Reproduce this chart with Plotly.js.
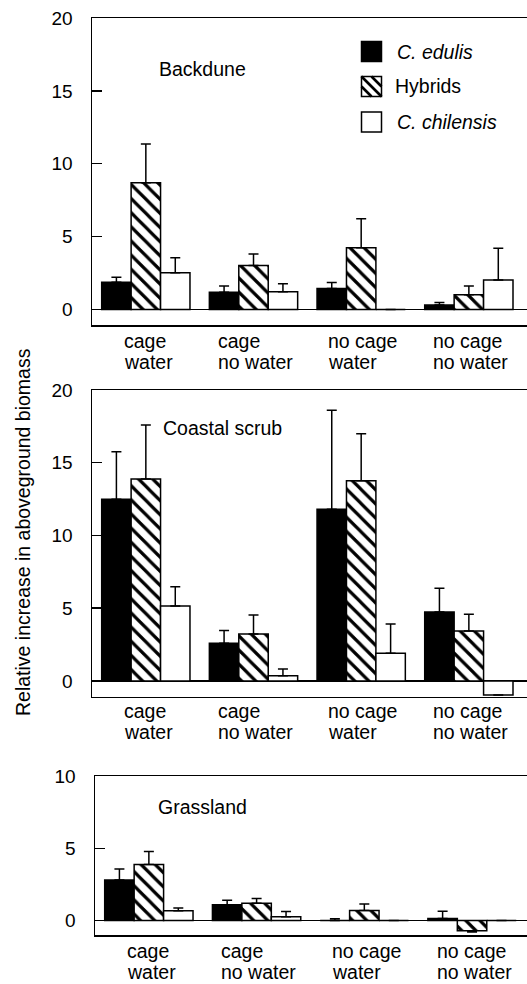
<!DOCTYPE html>
<html>
<head>
<meta charset="utf-8">
<script src="https://cdn.plot.ly/plotly-3.0.1.min.js"></script>
<style>
html,body{margin:0;padding:0;background:#fff;overflow:hidden;}
#chart{width:527px;height:984px;}
</style>
</head>
<body>
<div id="chart"></div>
<script>
// ---------- data ----------
const categoryLines = [["cage", "water"], ["cage", "no water"], ["no cage", "water"], ["no cage", "no water"]];
const categories = categoryLines.map(l => l.join(" "));
const speciesNames = ["C. edulis", "Hybrids", "C. chilensis"];
const panelNames = ["Backdune", "Coastal scrub", "Grassland"];
const yTitle = "Relative increase in aboveground biomass";

// Backdune
const backdune_edulis = [1.87, 1.17, 1.44, 0.30];
const backdune_edulis_se = [0.33, 0.43, 0.41, 0.18];
const backdune_hybrids = [8.69, 3.02, 4.23, 1.00];
const backdune_hybrids_se = [2.66, 0.78, 1.99, 0.60];
const backdune_chilensis = [2.51, 1.21, 0.00, 2.01];
const backdune_chilensis_se = [1.03, 0.55, 0.00, 2.18];

// Coastal scrub
const coastal_edulis = [12.49, 2.59, 11.80, 4.74];
const coastal_edulis_se = [3.27, 0.87, 6.80, 1.63];
const coastal_hybrids = [13.88, 3.23, 13.77, 3.44];
const coastal_hybrids_se = [3.72, 1.31, 3.23, 1.14];
const coastal_chilensis = [5.15, 0.36, 1.90, -0.96];
const coastal_chilensis_se = [1.33, 0.46, 2.02, 0.00];

// Grassland
const grass_edulis = [2.80, 1.10, 0.00, 0.15];
const grass_edulis_se = [0.76, 0.31, 0.12, 0.50];
const grass_hybrids = [3.88, 1.19, 0.69, -0.70];
const grass_hybrids_se = [0.89, 0.34, 0.45, 0.10];
const grass_chilensis = [0.67, 0.27, 0.00, 0.00];
const grass_chilensis_se = [0.20, 0.36, 0.00, 0.00];

const yTicksBig = [0, 5, 10, 15, 20];
const yTicksSmall = [0, 5, 10];

// ---------- styling / layout ----------
const W = 527, H = 984;
const FONT = "Liberation Sans, Arial, Helvetica, sans-serif";
const FS = 19.5;
const px = x => x / W;
const py = y => 1 - y / H;

const panels = [
  {vals: [backdune_edulis, backdune_hybrids, backdune_chilensis],
   se: [backdune_edulis_se, backdune_hybrids_se, backdune_chilensis_se],
   top: 18, bottom: 325, left: 92, xmax: 3.54, yr: [-1.07, 20], ticks: yTicksBig,
   title: [157, 69], lab: [341, 362]},
  {vals: [coastal_edulis, coastal_hybrids, coastal_chilensis],
   se: [coastal_edulis_se, coastal_hybrids_se, coastal_chilensis_se],
   top: 390, bottom: 696.5, left: 92, xmax: 3.54, yr: [-1.07, 20], ticks: yTicksBig,
   title: [161, 428], lab: [711, 732]},
  {vals: [grass_edulis, grass_hybrids, grass_chilensis],
   se: [grass_edulis_se, grass_hybrids_se, grass_chilensis_se],
   top: 776, bottom: 935, left: 95, xmax: 3.51, yr: [-1.0, 10], ticks: yTicksSmall,
   title: [156, 807], lab: [951, 972]}
];

function markerFor(s) {
  if (s === 0) return {color: "#000", line: {color: "#000", width: 1.5}};
  if (s === 1) return {color: "#fff", line: {color: "#000", width: 1.5},
    pattern: {shape: "\\", fgcolor: "#000", bgcolor: "#fff", size: 10, solidity: 0.32}};
  return {color: "#fff", line: {color: "#000", width: 1.5}};
}

const traces = [];
const layout = {
  width: W, height: H,
  margin: {l: 0, r: 0, t: 0, b: 0},
  paper_bgcolor: "#fff", plot_bgcolor: "#fff",
  showlegend: false,
  barmode: "group", bargap: 0.18, bargroupgap: 0,
  font: {family: FONT, size: FS, color: "#000"},
  annotations: [], shapes: []
};

// text measuring for left-aligned category labels
const ctx = document.createElement("canvas").getContext("2d");
ctx.font = FS + "px 'Liberation Sans'";
const measure = t => ctx.measureText(t).width;

panels.forEach((p, i) => {
  const n = i === 0 ? "" : String(i + 1);
  const xa = "x" + n, ya = "y" + n;
  p.vals.forEach((v, s) => {
    traces.push({
      type: "bar", x: categories, y: v, xaxis: xa, yaxis: ya,
      name: speciesNames[s], marker: markerFor(s),
      error_y: {type: "data", symmetric: false,
        array: v.map((val, k) => val >= 0 ? p.se[s][k] : 0),
        arrayminus: v.map((val, k) => val < 0 ? p.se[s][k] : 0),
        color: "#000", thickness: 1.5, width: 5}
    });
  });
  layout["xaxis" + n] = {
    anchor: ya, domain: [px(p.left), 1], type: "category",
    range: [-0.5, p.xmax], showline: true, mirror: true, linecolor: "#000", linewidth: 1.5,
    showticklabels: false, ticks: "", showgrid: false, zeroline: false, fixedrange: true
  };
  layout["yaxis" + n] = {
    anchor: xa, domain: [py(p.bottom), py(p.top)], range: p.yr,
    tickvals: p.ticks, ticks: "inside", ticklen: 10, tickwidth: 1.5, tickcolor: "#000",
    showline: true, mirror: false, linecolor: "#000", linewidth: 1.5,
    showgrid: false, zeroline: true, zerolinecolor: "#000", zerolinewidth: 1.5,
    tickfont: {size: 19, family: FONT, color: "#000"}, ticklabelstandoff: 14, fixedrange: true
  };
  // panel title
  layout.annotations.push({xref: "paper", yref: "paper", x: px(p.title[0]), y: py(p.title[1]),
    xanchor: "left", yanchor: "middle", text: panelNames[i], showarrow: false,
    font: {size: FS, family: FONT, color: "#000"}});
  // category labels, left aligned lines, block centred on the group
  categoryLines.forEach((lines, k) => {
    const wmax = Math.max(...lines.map(measure));
    lines.forEach((t, li) => {
      layout.annotations.push({xref: xa, yref: "paper", x: categories[k], y: py(p.lab[li]),
        xanchor: "left", yanchor: "middle", xshift: -wmax / 2, text: t, showarrow: false,
        font: {size: FS, family: FONT, color: "#000"}});
    });
  });
});

// y axis title
layout.annotations.push({xref: "paper", yref: "paper", x: px(23), y: py(532),
  xanchor: "center", yanchor: "middle", textangle: -90, text: yTitle, showarrow: false,
  font: {size: FS, family: FONT, color: "#000"}});

// legend (drawn by hand)
const legY = [51.5, 86.5, 122];
const lx0 = 361.5, lx1 = 381.5, half = 10;
legY.forEach((cy, s) => {
  const y0 = cy - half, y1 = cy + half;
  layout.shapes.push({type: "rect", xref: "paper", yref: "paper",
    x0: px(lx0), x1: px(lx1), y0: py(y1), y1: py(y0),
    fillcolor: s === 0 ? "#000" : "#fff", line: {color: "#000", width: 1.5}});
  if (s === 1) {
    // "\" hatch lines clipped to the square
    [-10, 0, 10].forEach(c => {
      let ax = lx0 + Math.max(0, c), ay = y0 + Math.max(0, -c);
      let bx = lx1 + Math.min(0, c), by = y1 + Math.min(0, -c);
      layout.shapes.push({type: "line", xref: "paper", yref: "paper",
        x0: px(ax), y0: py(ay), x1: px(bx), y1: py(by), line: {color: "#000", width: 2.6}});
    });
  }
  const label = s === 1 ? speciesNames[s] : "<i>" + speciesNames[s] + "</i>";
  layout.annotations.push({xref: "paper", yref: "paper", x: px(s === 1 ? 393 : 395), y: py(cy),
    xanchor: "left", yanchor: "middle", text: label, showarrow: false,
    font: {size: FS, family: FONT, color: "#000"}});
});

Plotly.newPlot("chart", traces, layout, {staticPlot: true, displayModeBar: false});
</script>
</body>
</html>
